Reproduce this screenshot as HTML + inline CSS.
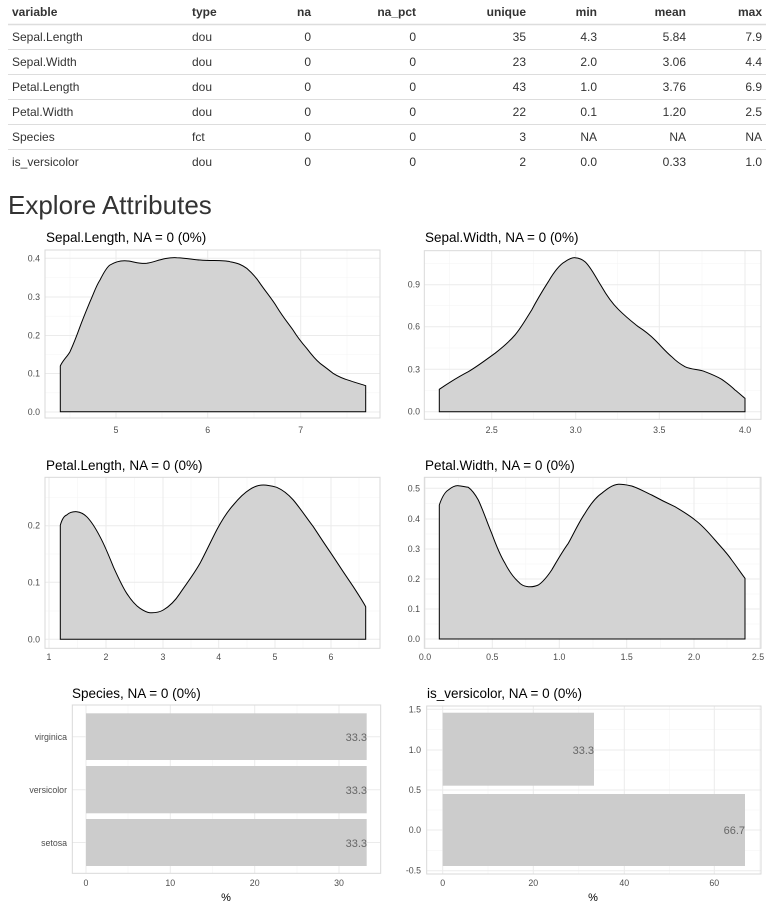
<!DOCTYPE html>
<html><head><meta charset="utf-8"><style>
html,body{margin:0;padding:0;background:#fff;}
svg{display:block;font-family:"Liberation Sans",Arial,sans-serif;}
.h{font-weight:bold;fill:#333;font-size:12px}
.c{fill:#333;font-size:12px}
.ax{fill:#4d4d4d;font-size:8.8px}
.tt{fill:#000;font-size:13.5px}
.g{stroke:#ebebeb;stroke-width:1}
.gm{stroke:#f5f5f5;stroke-width:0.6}
.pb{fill:none;stroke:#d9d9d9;stroke-width:1}
.den{fill:#d3d3d3;stroke:#000;stroke-width:1}
</style></head><body>
<svg width="772" height="908" viewBox="0 0 772 908" xmlns="http://www.w3.org/2000/svg">
<!-- table -->
<g>
<text class="h" x="12" y="16">variable</text>
<text class="h" x="192" y="16">type</text>
<g text-anchor="end" class="h">
<text x="311" y="16">na</text><text x="416" y="16">na_pct</text><text x="526" y="16">unique</text>
<text x="597" y="16">min</text><text x="686" y="16">mean</text><text x="762" y="16">max</text>
</g>
<g stroke="#ddd" stroke-width="1">
<line x1="8" x2="766" y1="24.5" y2="24.5" stroke-width="1.5"/>
<line x1="8" x2="766" y1="49.5" y2="49.5"/><line x1="8" x2="766" y1="74.5" y2="74.5"/>
<line x1="8" x2="766" y1="99.5" y2="99.5"/><line x1="8" x2="766" y1="124.5" y2="124.5"/>
<line x1="8" x2="766" y1="149.5" y2="149.5"/>
</g>
<g class="c">
<text x="12" y="41">Sepal.Length</text><text x="192" y="41">dou</text>
<text x="12" y="66">Sepal.Width</text><text x="192" y="66">dou</text>
<text x="12" y="91">Petal.Length</text><text x="192" y="91">dou</text>
<text x="12" y="116">Petal.Width</text><text x="192" y="116">dou</text>
<text x="12" y="141">Species</text><text x="192" y="141">fct</text>
<text x="12" y="166">is_versicolor</text><text x="192" y="166">dou</text>
</g>
<g class="c" text-anchor="end">
<text x="311" y="41">0</text><text x="416" y="41">0</text><text x="526" y="41">35</text><text x="597" y="41">4.3</text><text x="686" y="41">5.84</text><text x="762" y="41">7.9</text>
<text x="311" y="66">0</text><text x="416" y="66">0</text><text x="526" y="66">23</text><text x="597" y="66">2.0</text><text x="686" y="66">3.06</text><text x="762" y="66">4.4</text>
<text x="311" y="91">0</text><text x="416" y="91">0</text><text x="526" y="91">43</text><text x="597" y="91">1.0</text><text x="686" y="91">3.76</text><text x="762" y="91">6.9</text>
<text x="311" y="116">0</text><text x="416" y="116">0</text><text x="526" y="116">22</text><text x="597" y="116">0.1</text><text x="686" y="116">1.20</text><text x="762" y="116">2.5</text>
<text x="311" y="141">0</text><text x="416" y="141">0</text><text x="526" y="141">3</text><text x="597" y="141">NA</text><text x="686" y="141">NA</text><text x="762" y="141">NA</text>
<text x="311" y="166">0</text><text x="416" y="166">0</text><text x="526" y="166">2</text><text x="597" y="166">0.0</text><text x="686" y="166">0.33</text><text x="762" y="166">1.0</text>
</g>
</g>
<text x="8" y="214" font-size="26" fill="#333">Explore Attributes</text>

<!-- Plot 1 -->
<text class="tt" x="46" y="242">Sepal.Length, NA = 0 (0%)</text>
<g>
<line class="gm" x1="45" x2="380" y1="392.8" y2="392.8"/><line class="gm" x1="45" x2="380" y1="354.5" y2="354.5"/><line class="gm" x1="45" x2="380" y1="316.2" y2="316.2"/><line class="gm" x1="45" x2="380" y1="277.5" y2="277.5"/>
<line class="gm" x1="70" x2="70" y1="250" y2="418"/><line class="gm" x1="162" x2="162" y1="250" y2="418"/><line class="gm" x1="254" x2="254" y1="250" y2="418"/><line class="gm" x1="347" x2="347" y1="250" y2="418"/>
<line class="g" x1="45" x2="380" y1="412" y2="412"/><line class="g" x1="45" x2="380" y1="373.5" y2="373.5"/><line class="g" x1="45" x2="380" y1="335.5" y2="335.5"/><line class="g" x1="45" x2="380" y1="297" y2="297"/><line class="g" x1="45" x2="380" y1="258.3" y2="258.3"/>
<line class="g" x1="116" x2="116" y1="250" y2="418"/><line class="g" x1="207.7" x2="207.7" y1="250" y2="418"/><line class="g" x1="300.7" x2="300.7" y1="250" y2="418"/>
<path class="den" d="M60.3,411.7 L60.3,366 C63,360 67,357 70,351.7 C74,343 77,335 80,326.7 C84,316 87,309 90,301.7 C94,293 96,286 100,280 C104,272 107,267 110,265 C115,262 121,260 128.3,261 C135,262 140,264 146.7,263.3 C155,262 165,257 176.7,257.7 C188,258 194,260 200,260 C212,261 223,260 230,261.7 C238,263 242,265 246.7,268.3 C252,273 256,277 260,283.3 C266,292 272,299 276.7,306.7 C283,317 288,323 293,330 C298,338 302,343 306.7,348.3 C311,354 315,359 320,363.3 C325,367 329,370 333,373.3 C339,377 344,379 350,380.7 C356,383 361,384 365.7,385.7 L365.7,411.7 Z"/>
<rect class="pb" x="45" y="250" width="335" height="168"/>
<g class="ax" text-anchor="end"><text x="40" y="415">0.0</text><text x="40" y="376.5">0.1</text><text x="40" y="338.5">0.2</text><text x="40" y="300">0.3</text><text x="40" y="261.3">0.4</text></g>
<g class="ax" text-anchor="middle"><text x="116" y="433">5</text><text x="207.7" y="433">6</text><text x="300.7" y="433">7</text></g>
</g>

<!-- Plot 2 -->
<text class="tt" x="425" y="242">Sepal.Width, NA = 0 (0%)</text>
<g>
<line class="gm" x1="424" x2="761" y1="390.5" y2="390.5"/><line class="gm" x1="424" x2="761" y1="348" y2="348"/><line class="gm" x1="424" x2="761" y1="305.7" y2="305.7"/><line class="gm" x1="424" x2="761" y1="263.7" y2="263.7"/>
<line class="gm" x1="449.7" x2="449.7" y1="250.7" y2="419.3"/><line class="gm" x1="533.7" x2="533.7" y1="250.7" y2="419.3"/><line class="gm" x1="617.5" x2="617.5" y1="250.7" y2="419.3"/><line class="gm" x1="702" x2="702" y1="250.7" y2="419.3"/>
<line class="g" x1="424" x2="761" y1="411.7" y2="411.7"/><line class="g" x1="424" x2="761" y1="369.3" y2="369.3"/><line class="g" x1="424" x2="761" y1="326.7" y2="326.7"/><line class="g" x1="424" x2="761" y1="284.7" y2="284.7"/>
<line class="g" x1="491.7" x2="491.7" y1="250.7" y2="419.3"/><line class="g" x1="575.7" x2="575.7" y1="250.7" y2="419.3"/><line class="g" x1="659.3" x2="659.3" y1="250.7" y2="419.3"/><line class="g" x1="745" x2="745" y1="250.7" y2="419.3"/>
<path class="den" d="M439.3,411.7 L439.3,389.3 C450,382 460,376 468.3,371.7 C478,366 487,359 495,353.3 C503,347 509,342 515,335 C521,328 526,319 531.7,310 C537,300 543,290 548.3,281.7 C554,272 559,265 565,261.7 C569,259 572,257.5 575,257.7 C579,258 582,259 585,261.7 C591,267 596,278 601.7,286.7 C607,296 612,303 618.3,309.3 C625,316 631,321 638.3,326.7 C645,331 650,335 655,340 C661,346 666,352 671.7,356.7 C676,361 680,364 685,366.7 C692,370 699,369 705,371.7 C711,374 716,376 721.7,379.3 C727,383 731,386 735,390 C739,393 742,396 745,398.3 L745,411.7 Z"/>
<rect class="pb" x="424.3" y="250.7" width="336.7" height="168.6"/>
<g class="ax" text-anchor="end"><text x="420" y="414.7">0.0</text><text x="420" y="372.3">0.3</text><text x="420" y="329.7">0.6</text><text x="420" y="287.7">0.9</text></g>
<g class="ax" text-anchor="middle"><text x="491.7" y="433">2.5</text><text x="575.7" y="433">3.0</text><text x="659.3" y="433">3.5</text><text x="745" y="433">4.0</text></g>
</g>

<!-- Plot 3 -->
<text class="tt" x="46" y="470">Petal.Length, NA = 0 (0%)</text>
<g>
<line class="gm" x1="45" x2="380" y1="611" y2="611"/><line class="gm" x1="45" x2="380" y1="554" y2="554"/><line class="gm" x1="45" x2="380" y1="497.5" y2="497.5"/>
<line class="gm" x1="77.5" x2="77.5" y1="477.3" y2="648.3"/><line class="gm" x1="134.5" x2="134.5" y1="477.3" y2="648.3"/><line class="gm" x1="191" x2="191" y1="477.3" y2="648.3"/><line class="gm" x1="247" x2="247" y1="477.3" y2="648.3"/><line class="gm" x1="303" x2="303" y1="477.3" y2="648.3"/><line class="gm" x1="359" x2="359" y1="477.3" y2="648.3"/>
<line class="g" x1="45" x2="380" y1="639.3" y2="639.3"/><line class="g" x1="45" x2="380" y1="582.3" y2="582.3"/><line class="g" x1="45" x2="380" y1="525.7" y2="525.7"/>
<line class="g" x1="49" x2="49" y1="477.3" y2="648.3"/><line class="g" x1="106" x2="106" y1="477.3" y2="648.3"/><line class="g" x1="163" x2="163" y1="477.3" y2="648.3"/><line class="g" x1="218.7" x2="218.7" y1="477.3" y2="648.3"/><line class="g" x1="275" x2="275" y1="477.3" y2="648.3"/><line class="g" x1="331" x2="331" y1="477.3" y2="648.3"/>
<path class="den" d="M60.3,639.3 L60.3,525.3 C62,519 64,516 66.7,515 C70,512 73,511.5 76.7,511.7 C80,512 83,513 86.7,516.7 C92,522 96,529 100,536.7 C105,546 109,556 113.3,566.7 C118,577 122,586 126.7,593.3 C131,600 135,605 140,608.3 C144,611 147,612.5 150,612.7 C155,613 159,612.5 163.3,610 C170,606 175,601 180,593.3 C187,583 194,574 200,563.3 C206,552 211,541 216.7,530 C222,520 227,512 233.3,505 C239,498 244,493 250,489.3 C255,486 259,485 263.3,485 C268,485 272,486 276.7,487.3 C283,490 288,494 293.3,500 C300,508 306,517 313.3,526.7 C320,537 326,546 333.3,556.7 C340,567 346,576 353.3,586.7 C358,594 362,600 365.7,606.7 L365.7,639.3 Z"/>
<rect class="pb" x="45" y="477.3" width="335" height="171"/>
<g class="ax" text-anchor="end"><text x="40" y="642.3">0.0</text><text x="40" y="585.3">0.1</text><text x="40" y="528.7">0.2</text></g>
<g class="ax" text-anchor="middle"><text x="49" y="660">1</text><text x="106" y="660">2</text><text x="163" y="660">3</text><text x="218.7" y="660">4</text><text x="275" y="660">5</text><text x="331" y="660">6</text></g>
</g>

<!-- Plot 4 -->
<text class="tt" x="425" y="470">Petal.Width, NA = 0 (0%)</text>
<g>
<line class="gm" x1="424" x2="761" y1="624" y2="624"/><line class="gm" x1="424" x2="761" y1="594" y2="594"/><line class="gm" x1="424" x2="761" y1="564" y2="564"/><line class="gm" x1="424" x2="761" y1="534" y2="534"/><line class="gm" x1="424" x2="761" y1="503.7" y2="503.7"/>
<line class="gm" x1="458.7" x2="458.7" y1="477.3" y2="648.3"/><line class="gm" x1="525.8" x2="525.8" y1="477.3" y2="648.3"/><line class="gm" x1="593" x2="593" y1="477.3" y2="648.3"/><line class="gm" x1="660.3" x2="660.3" y1="477.3" y2="648.3"/><line class="gm" x1="727" x2="727" y1="477.3" y2="648.3"/>
<line class="g" x1="424" x2="761" y1="639" y2="639"/><line class="g" x1="424" x2="761" y1="609" y2="609"/><line class="g" x1="424" x2="761" y1="579" y2="579"/><line class="g" x1="424" x2="761" y1="549" y2="549"/><line class="g" x1="424" x2="761" y1="519" y2="519"/><line class="g" x1="424" x2="761" y1="488.3" y2="488.3"/>
<line class="g" x1="425" x2="425" y1="477.3" y2="648.3"/><line class="g" x1="492.3" x2="492.3" y1="477.3" y2="648.3"/><line class="g" x1="559.3" x2="559.3" y1="477.3" y2="648.3"/><line class="g" x1="626.7" x2="626.7" y1="477.3" y2="648.3"/><line class="g" x1="694" x2="694" y1="477.3" y2="648.3"/><line class="g" x1="760" x2="760" y1="477.3" y2="648.3"/>
<path class="den" d="M439.3,639 L439.3,505 C442,497 445,492 448.3,490 C452,487 455,485.5 458.3,485.7 C462,486 465,487 468.3,487.3 C472,490 475,494 478.3,500 C483,510 487,522 491.7,533.3 C496,545 500,555 505,563.3 C509,571 513,577 518.3,581.7 C521,585 525,586.5 528.3,586.7 C532,587 535,586.5 538.3,585 C543,582 547,577 551.7,570 C557,561 562,552 568.3,543.3 C574,533 579,522 585,513.3 C590,505 596,497 601.7,493.3 C607,489 612,485 618.3,484.3 C623,484 627,485 631.7,486 C638,488 645,492 651.7,495 C659,499 667,503 675,506.7 C682,511 689,515 695,520 C702,525 709,533 715,540 C721,547 727,553 731.7,560 C737,567 741,573 745,578.3 L745,639 Z"/>
<rect class="pb" x="424.3" y="477.3" width="336.7" height="171"/>
<g class="ax" text-anchor="end"><text x="420" y="642">0.0</text><text x="420" y="612">0.1</text><text x="420" y="582">0.2</text><text x="420" y="552">0.3</text><text x="420" y="522">0.4</text><text x="420" y="491.3">0.5</text></g>
<g class="ax" text-anchor="middle"><text x="425" y="660">0.0</text><text x="492.3" y="660">0.5</text><text x="559.3" y="660">1.0</text><text x="626.7" y="660">1.5</text><text x="694" y="660">2.0</text><text x="758" y="660">2.5</text></g>
</g>

<!-- Plot 5 Species -->
<text class="tt" x="72" y="698">Species, NA = 0 (0%)</text>
<g>
<line class="gm" x1="128" x2="128" y1="705" y2="873.3"/><line class="gm" x1="212.5" x2="212.5" y1="705" y2="873.3"/><line class="gm" x1="297" x2="297" y1="705" y2="873.3"/>
<line class="g" x1="86" x2="86" y1="705" y2="873.3"/><line class="g" x1="170.3" x2="170.3" y1="705" y2="873.3"/><line class="g" x1="254.7" x2="254.7" y1="705" y2="873.3"/><line class="g" x1="339" x2="339" y1="705" y2="873.3"/>
<line class="g" x1="72" x2="380" y1="736.7" y2="736.7"/><line class="g" x1="72" x2="380" y1="789.7" y2="789.7"/><line class="g" x1="72" x2="380" y1="842.5" y2="842.5"/>
<g fill="#cccccc"><rect x="86" y="713.3" width="280.7" height="46.7"/><rect x="86" y="766" width="280.7" height="47.3"/><rect x="86" y="819" width="280.7" height="47"/></g>
<rect class="pb" x="72.3" y="705" width="308.4" height="168.3"/>
<g fill="#666" font-size="11" text-anchor="end"><text x="367" y="741">33.3</text><text x="367" y="794">33.3</text><text x="367" y="847">33.3</text></g>
<g class="ax" text-anchor="end"><text x="67" y="740">virginica</text><text x="67" y="793">versicolor</text><text x="67" y="846">setosa</text></g>
<g class="ax" text-anchor="middle"><text x="86" y="886">0</text><text x="170.3" y="886">10</text><text x="254.7" y="886">20</text><text x="339" y="886">30</text></g>
<text x="226" y="901" font-size="11" fill="#000" text-anchor="middle">%</text>
</g>

<!-- Plot 6 -->
<text class="tt" x="427" y="698">is_versicolor, NA = 0 (0%)</text>
<g>
<line class="gm" x1="426.7" x2="761" y1="729.7" y2="729.7"/><line class="gm" x1="426.7" x2="761" y1="770" y2="770"/><line class="gm" x1="426.7" x2="761" y1="810" y2="810"/><line class="gm" x1="426.7" x2="761" y1="850.3" y2="850.3"/>
<line class="gm" x1="488" x2="488" y1="706" y2="874"/><line class="gm" x1="578.8" x2="578.8" y1="706" y2="874"/><line class="gm" x1="669.3" x2="669.3" y1="706" y2="874"/><line class="gm" x1="759.5" x2="759.5" y1="706" y2="874"/>
<line class="g" x1="426.7" x2="761" y1="709.3" y2="709.3"/><line class="g" x1="426.7" x2="761" y1="750" y2="750"/><line class="g" x1="426.7" x2="761" y1="790" y2="790"/><line class="g" x1="426.7" x2="761" y1="830" y2="830"/><line class="g" x1="426.7" x2="761" y1="870.7" y2="870.7"/>
<line class="g" x1="442.7" x2="442.7" y1="706" y2="874"/><line class="g" x1="533.3" x2="533.3" y1="706" y2="874"/><line class="g" x1="624.3" x2="624.3" y1="706" y2="874"/><line class="g" x1="714.3" x2="714.3" y1="706" y2="874"/>
<g fill="#cccccc"><rect x="442.7" y="712.7" width="151.3" height="73"/><rect x="442.7" y="794" width="302.3" height="72"/></g>
<rect class="pb" x="426.7" y="706" width="334.3" height="168"/>
<g fill="#666" font-size="11" text-anchor="end"><text x="594" y="754">33.3</text><text x="745" y="834">66.7</text></g>
<g class="ax" text-anchor="end"><text x="421" y="712.3">1.5</text><text x="421" y="753">1.0</text><text x="421" y="793">0.5</text><text x="421" y="833">0.0</text><text x="421" y="873.7">-0.5</text></g>
<g class="ax" text-anchor="middle"><text x="442.7" y="886">0</text><text x="533.3" y="886">20</text><text x="624.3" y="886">40</text><text x="714.3" y="886">60</text></g>
<text x="593" y="901" font-size="11" fill="#000" text-anchor="middle">%</text>
</g>
</svg>
</body></html>
